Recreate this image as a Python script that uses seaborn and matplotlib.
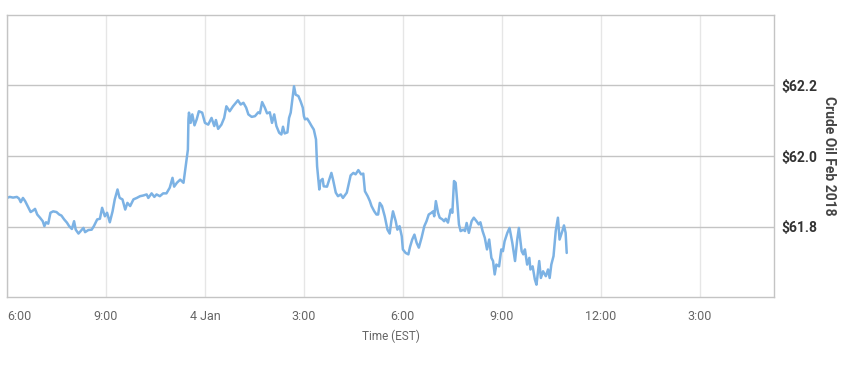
import numpy as np
import pandas as pd
import matplotlib.pyplot as plt
import matplotlib.dates as mdates
import seaborn as sns

# Crude Oil Feb 2018 intraday prices
# minutes after 6:00 (evening of 3 Jan, EST)
minutes = [0, 5, 11, 18, 22, 25, 29, 33, 39, 43, 48, 51, 55, 60, 65, 68, 71, 75, 79, 84,
           90, 95, 99, 104, 109, 113, 118, 122, 125, 130, 134, 139, 142, 148, 154, 158, 164, 169, 173, 178,
           182, 187, 192, 196, 201, 204, 205, 210, 215, 219, 224, 230, 236, 242, 248, 254, 257, 263, 268, 272,
           278, 284, 290, 296, 301, 304, 309, 315, 321, 325, 329, 330, 331, 334, 337, 341, 345, 349, 355, 360,
           366, 372, 377, 380, 384, 390, 395, 399, 405, 411, 420, 425, 430, 435, 439, 445, 451, 457, 460, 464,
           469, 473, 478, 482, 486, 490, 495, 499, 502, 505, 510, 513, 516, 522, 525, 530, 534, 538, 540, 542,
           546, 550, 554, 558, 562, 564, 568, 570, 574, 576, 582, 586, 590, 593, 598, 602, 607, 611, 618, 622,
           625, 630, 634, 639, 644, 648, 651, 656, 660, 663, 668, 672, 675, 678, 682, 687, 692, 696, 699, 702,
           707, 710, 714, 718, 720, 725, 730, 733, 737, 741, 745, 749, 754, 759, 763, 767, 772, 775, 777, 780,
           784, 787, 792, 795, 798, 802, 807, 810, 813, 816, 819, 822, 825, 830, 833, 836, 840, 845, 849, 854,
           858, 861, 865, 869, 873, 877, 881, 884, 887, 890, 895, 899, 902, 905, 910, 914, 919, 924, 928, 931,
           936, 939, 942, 946, 950, 952, 956, 960, 963, 968, 971, 975, 980, 984, 987, 990, 994, 998, 1002, 1005,
           1010, 1013, 1016, 1018]
prices = [61.881, 61.884, 61.882, 61.884, 61.879, 61.869, 61.881, 61.872, 61.853, 61.841,
          61.846, 61.850, 61.834, 61.825, 61.815, 61.801, 61.812, 61.808, 61.839, 61.843,
          61.841, 61.834, 61.831, 61.820, 61.811, 61.801, 61.793, 61.815, 61.791, 61.780,
          61.787, 61.796, 61.784, 61.790, 61.791, 61.801, 61.820, 61.822, 61.853, 61.829,
          61.839, 61.812, 61.843, 61.877, 61.905, 61.886, 61.881, 61.877, 61.848, 61.867,
          61.858, 61.877, 61.881, 61.886, 61.888, 61.891, 61.881, 61.894, 61.884, 61.891,
          61.886, 61.894, 61.894, 61.910, 61.938, 61.913, 61.924, 61.933, 61.924, 61.971,
          62.018, 62.104, 62.123, 62.094, 62.118, 62.087, 62.104, 62.127, 62.123, 62.094,
          62.089, 62.108, 62.085, 62.102, 62.077, 62.089, 62.108, 62.141, 62.127, 62.141,
          62.158, 62.146, 62.151, 62.137, 62.118, 62.111, 62.113, 62.124, 62.121, 62.153,
          62.137, 62.121, 62.124, 62.094, 62.118, 62.085, 62.066, 62.061, 62.083, 62.064,
          62.067, 62.108, 62.123, 62.198, 62.174, 62.170, 62.155, 62.137, 62.113, 62.104,
          62.106, 62.096, 62.085, 62.075, 62.047, 61.971, 61.905, 61.929, 61.935, 61.914,
          61.913, 61.933, 61.952, 61.933, 61.896, 61.886, 61.891, 61.881, 61.896, 61.924,
          61.945, 61.952, 61.948, 61.960, 61.948, 61.950, 61.900, 61.886, 61.872, 61.858,
          61.843, 61.834, 61.834, 61.867, 61.858, 61.829, 61.791, 61.780, 61.815, 61.843,
          61.815, 61.791, 61.801, 61.772, 61.735, 61.725, 61.721, 61.742, 61.763, 61.777,
          61.754, 61.740, 61.768, 61.801, 61.815, 61.834, 61.839, 61.843, 61.829, 61.872,
          61.839, 61.825, 61.820, 61.815, 61.822, 61.811, 61.848, 61.839, 61.929, 61.924,
          61.867, 61.806, 61.787, 61.791, 61.787, 61.810, 61.782, 61.815, 61.825, 61.815,
          61.806, 61.812, 61.787, 61.768, 61.735, 61.763, 61.711, 61.702, 61.664, 61.692,
          61.687, 61.735, 61.730, 61.758, 61.782, 61.796, 61.754, 61.702, 61.763, 61.796,
          61.730, 61.721, 61.735, 61.692, 61.711, 61.678, 61.687, 61.650, 61.635, 61.702,
          61.654, 61.673, 61.659, 61.678, 61.654, 61.692, 61.716, 61.787, 61.825, 61.763,
          61.787, 61.803, 61.782, 61.725]

tick_labels = ["6:00", "9:00", "4 Jan", "3:00", "6:00", "9:00", "12:00", "3:00"]
y_ticks = [61.8, 62.0, 62.2]
y_tick_labels = ["$61.8", "$62.0", "$62.2"]

start = pd.Timestamp("2018-01-03 18:00")
df = pd.DataFrame({"time": start + pd.to_timedelta(minutes, unit="m"), "price": prices})
tick_times = [start + pd.Timedelta(hours=3 * i) for i in range(len(tick_labels))]

sns.set_style("white")
plt.rcParams["font.family"] = ["Roboto", "DejaVu Sans"]

fig = plt.figure(figsize=(8.47, 3.67), dpi=100)
ax = fig.add_axes([7 / 847, 70 / 367, 767 / 847, 282 / 367])
sns.lineplot(data=df, x="time", y="price", color="#7cb2e4", linewidth=1.8, ax=ax)

ax.set_xlim(mdates.date2num(start), mdates.date2num(start + pd.Timedelta(hours=23.25)))
ax.set_ylim(61.6, 62.4)

ax.set_xticks(mdates.date2num(tick_times))
ax.set_xticklabels(tick_labels)
ax.set_yticks(y_ticks)
ax.set_yticklabels(y_tick_labels)

ax.yaxis.tick_right()
ax.yaxis.set_label_position("right")
ax.tick_params(axis="x", direction="in", length=4, color="#b8b8b8", pad=9,
               labelsize=9, labelcolor="#666666")
ax.tick_params(axis="y", length=0, pad=5, labelsize=10, labelcolor="#333333")
for lab in ax.get_yticklabels():
    lab.set_fontweight("bold")
# first label is kept inside the chart, as the original does
ax.get_xticklabels()[0].set_horizontalalignment("left")

ax.grid(axis="y", color="#c4c4c4", linewidth=1)
ax.grid(axis="x", color="#e6e6e6", linewidth=1)
for side in ax.spines.values():
    side.set_color("#c4c4c4")
    side.set_linewidth(1)

ax.set_xlabel("Time (EST)", fontsize=8.5, color="#666666", labelpad=5)
ax.set_ylabel("Crude Oil Feb 2018", fontsize=10, color="#444444", fontweight="bold",
              rotation=270, labelpad=14)

plt.savefig("out.png", dpi=100)
